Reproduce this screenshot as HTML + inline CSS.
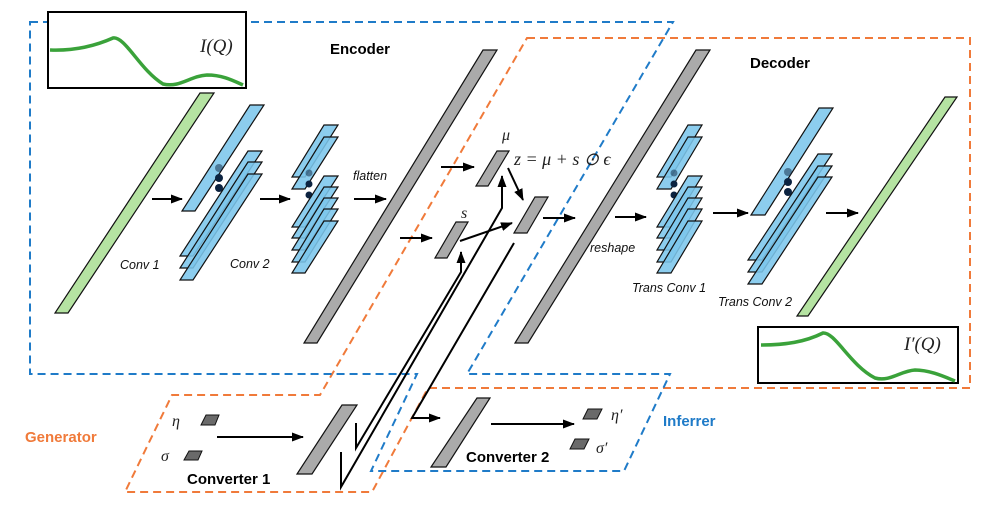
<!DOCTYPE html>
<html><head><meta charset="utf-8"><style>
html,body{margin:0;padding:0;background:#fff;}
svg{display:block;}
.it{font-family:"Liberation Sans",sans-serif;font-style:italic;font-size:12.5px;fill:#111;}
.b{font-family:"Liberation Sans",sans-serif;font-weight:bold;font-size:15px;fill:#000;}
.m{font-family:"Liberation Serif",serif;font-style:italic;fill:#222;}
.sh{fill:#7cc6ec;fill-opacity:0.88;stroke:#111;stroke-width:1.2;}
.g{fill:#aaaaaa;stroke:#111;stroke-width:1.2;}
.gr{fill:#b5e3a2;stroke:#111;stroke-width:1.2;}
.dg{fill:#6a6a6a;stroke:#111;stroke-width:1;}
.ln{stroke:#000;stroke-width:2;fill:none;}
</style></head><body>
<svg width="997" height="521" viewBox="0 0 997 521" xmlns="http://www.w3.org/2000/svg">
<defs>
<marker id="a2" markerWidth="12" markerHeight="10" refX="11" refY="5" orient="auto" markerUnits="userSpaceOnUse"><path d="M0,0.5 L12,5 L0,9.5 z" fill="#000"/></marker></defs>

<!-- dashed boxes -->
<path d="M527,38 L970,38 L970,388 L428,388 L372,492 L125,492 L172,395 L320,395 Z" fill="none" stroke="#f07a3a" stroke-width="2" stroke-dasharray="8,5"/>
<path d="M30,22 L673,22 L467,374 L670,374 L624,471 L371,471 L417,374 L30,374 Z" fill="none" stroke="#1f7bc8" stroke-width="2" stroke-dasharray="8,5"/>

<!-- I(Q) box -->
<rect x="48" y="12" width="198" height="76" fill="#fff" stroke="#000" stroke-width="2"/>
<path d="M50,50 C75,51 95,46 113,38 C125,36 140,70 163,84 C180,88 190,76 207,75 C222,75 232,80 243,85" fill="none" stroke="#3aa23a" stroke-width="3.5"/>
<text x="200" y="52" class="m" font-size="19">I(Q)</text>
<text x="330" y="54" class="b">Encoder</text>

<!-- input -->
<polygon class="gr" points="200,93 214,93 68,313 55,313"/>
<!-- conv1 -->
<polygon class="sh" points="250,105 264,105 195,211 182,211"/>
<circle cx="219" cy="168" r="4" fill="#0c2340" opacity="0.5"/>
<circle cx="219" cy="178" r="4" fill="#0c2340"/>
<circle cx="219" cy="188" r="4" fill="#0c2340"/>
<polygon class="sh" points="248,151 262,151 193,256 180,256"/>
<polygon class="sh" points="248,162 262,162 193,268 180,268"/>
<polygon class="sh" points="248,174 262,174 193,280 180,280"/>
<!-- conv2 -->
<polygon class="sh" points="324,125 338,125 305,177 292,177"/>
<polygon class="sh" points="324,137 338,137 305,189 292,189"/>
<circle cx="309" cy="173" r="3.5" fill="#0c2340" opacity="0.5"/>
<circle cx="309" cy="184" r="3.5" fill="#0c2340"/>
<circle cx="309" cy="195" r="3.5" fill="#0c2340"/>
<polygon class="sh" points="324,176 338,176 305,227 292,227"/>
<polygon class="sh" points="324,187 338,187 305,238 292,238"/>
<polygon class="sh" points="324,198 338,198 305,250 292,250"/>
<polygon class="sh" points="324,209 338,209 305,262 292,262"/>
<polygon class="sh" points="324,221 338,221 305,273 292,273"/>
<line class="ln" x1="152" y1="199" x2="182" y2="199" marker-end="url(#a2)"/>
<line class="ln" x1="260" y1="199" x2="290" y2="199" marker-end="url(#a2)"/>
<line class="ln" x1="354" y1="199" x2="386" y2="199" marker-end="url(#a2)"/>
<text x="353" y="180" class="it">flatten</text>
<text x="120" y="269" class="it">Conv 1</text>
<text x="230" y="268" class="it">Conv 2</text>

<!-- encoder big bar -->
<polygon class="g" points="483,50 497,50 317,343 304,343"/>

<!-- latent -->
<polygon class="g" points="497,151 509,151 488,186 476,186"/>
<polygon class="g" points="456,222 468,222 447,258 435,258"/>
<polygon class="g" points="535,197 548,197 527,233 514,233"/>
<text x="502" y="140" class="m" font-size="16">μ</text>
<text x="461" y="218" class="m" font-size="16">s</text>
<text x="514" y="165" class="m" font-size="18">z = μ + s ⊙ ϵ</text>
<line class="ln" x1="441" y1="167" x2="474" y2="167" marker-end="url(#a2)"/>
<line class="ln" x1="400" y1="238" x2="432" y2="238" marker-end="url(#a2)"/>
<line class="ln" x1="508" y1="168" x2="523" y2="200" marker-end="url(#a2)"/>
<line class="ln" x1="460" y1="241" x2="512" y2="223" marker-end="url(#a2)"/>
<line class="ln" x1="543" y1="218" x2="575" y2="218" marker-end="url(#a2)"/>

<!-- connecting lines -->
<polyline class="ln" points="356,423 356,448 461,272 461,252" marker-end="url(#a2)"/>
<polyline class="ln" points="341,452 341,487 502,208 502,176" marker-end="url(#a2)"/>
<polyline class="ln" points="514,243 412,418 440,418" marker-end="url(#a2)"/>

<!-- decoder -->
<polygon class="g" points="696,50 710,50 528,343 515,343"/>
<text x="590" y="252" class="it">reshape</text>
<line class="ln" x1="615" y1="217" x2="646" y2="217" marker-end="url(#a2)"/>
<text x="750" y="68" class="b">Decoder</text>
<!-- trans conv1 -->
<polygon class="sh" points="688,125 702,125 671,177 657,177"/>
<polygon class="sh" points="688,137 702,137 671,189 657,189"/>
<circle cx="674" cy="173" r="3.5" fill="#0c2340" opacity="0.5"/>
<circle cx="674" cy="184" r="3.5" fill="#0c2340"/>
<circle cx="674" cy="195" r="3.5" fill="#0c2340"/>
<polygon class="sh" points="688,176 702,176 671,227 657,227"/>
<polygon class="sh" points="688,187 702,187 671,238 657,238"/>
<polygon class="sh" points="688,198 702,198 671,250 657,250"/>
<polygon class="sh" points="688,209 702,209 671,262 657,262"/>
<polygon class="sh" points="688,221 702,221 671,273 657,273"/>
<text x="632" y="292" class="it">Trans Conv 1</text>
<line class="ln" x1="713" y1="213" x2="748" y2="213" marker-end="url(#a2)"/>
<!-- trans conv2 -->
<polygon class="sh" points="819,108 833,108 765,215 751,215"/>
<circle cx="788" cy="172" r="4" fill="#0c2340" opacity="0.5"/>
<circle cx="788" cy="182" r="4" fill="#0c2340"/>
<circle cx="788" cy="192" r="4" fill="#0c2340"/>
<polygon class="sh" points="818,154 832,154 762,260 748,260"/>
<polygon class="sh" points="818,166 832,166 762,272 748,272"/>
<polygon class="sh" points="818,177 832,177 762,284 748,284"/>
<text x="718" y="306" class="it">Trans Conv 2</text>
<line class="ln" x1="826" y1="213" x2="858" y2="213" marker-end="url(#a2)"/>
<polygon class="gr" points="945,97 957,97 808,316 797,316"/>

<!-- I'(Q) box -->
<rect x="758" y="327" width="200" height="56" fill="#fff" stroke="#000" stroke-width="2"/>
<path d="M761,345 C785,345 805,342 823,333 C835,332 850,365 875,378 C890,382 900,371 915,370 C930,370 945,377 955,381" fill="none" stroke="#3aa23a" stroke-width="3.5"/>
<text x="904" y="350" class="m" font-size="19">I′(Q)</text>

<!-- bottom -->
<text x="25" y="442" font-family="Liberation Sans,sans-serif" font-weight="bold" font-size="15" fill="#f07a3a">Generator</text>
<text x="663" y="426" font-family="Liberation Sans,sans-serif" font-weight="bold" font-size="15" fill="#1f7bc8">Inferrer</text>
<polygon class="dg" points="206,415 219,415 215,425 201,425"/>
<polygon class="dg" points="189,451 202,451 198,460 184,460"/>
<text x="172" y="426" class="m" font-size="16">η</text>
<text x="161" y="461" class="m" font-size="16">σ</text>
<line class="ln" x1="217" y1="437" x2="303" y2="437" marker-end="url(#a2)"/>
<polygon class="g" points="342,405 357,405 312,474 297,474"/>
<text x="187" y="484" class="b">Converter 1</text>
<polygon class="g" points="477,398 490,398 446,467 431,467"/>
<text x="466" y="462" class="b">Converter 2</text>
<line class="ln" x1="491" y1="424" x2="574" y2="424" marker-end="url(#a2)"/>
<polygon class="dg" points="588,409 602,409 597,419 583,419"/>
<polygon class="dg" points="575,439 589,439 584,449 570,449"/>
<text x="611" y="420" class="m" font-size="16">η′</text>
<text x="596" y="453" class="m" font-size="16">σ′</text>
</svg>
</body></html>
